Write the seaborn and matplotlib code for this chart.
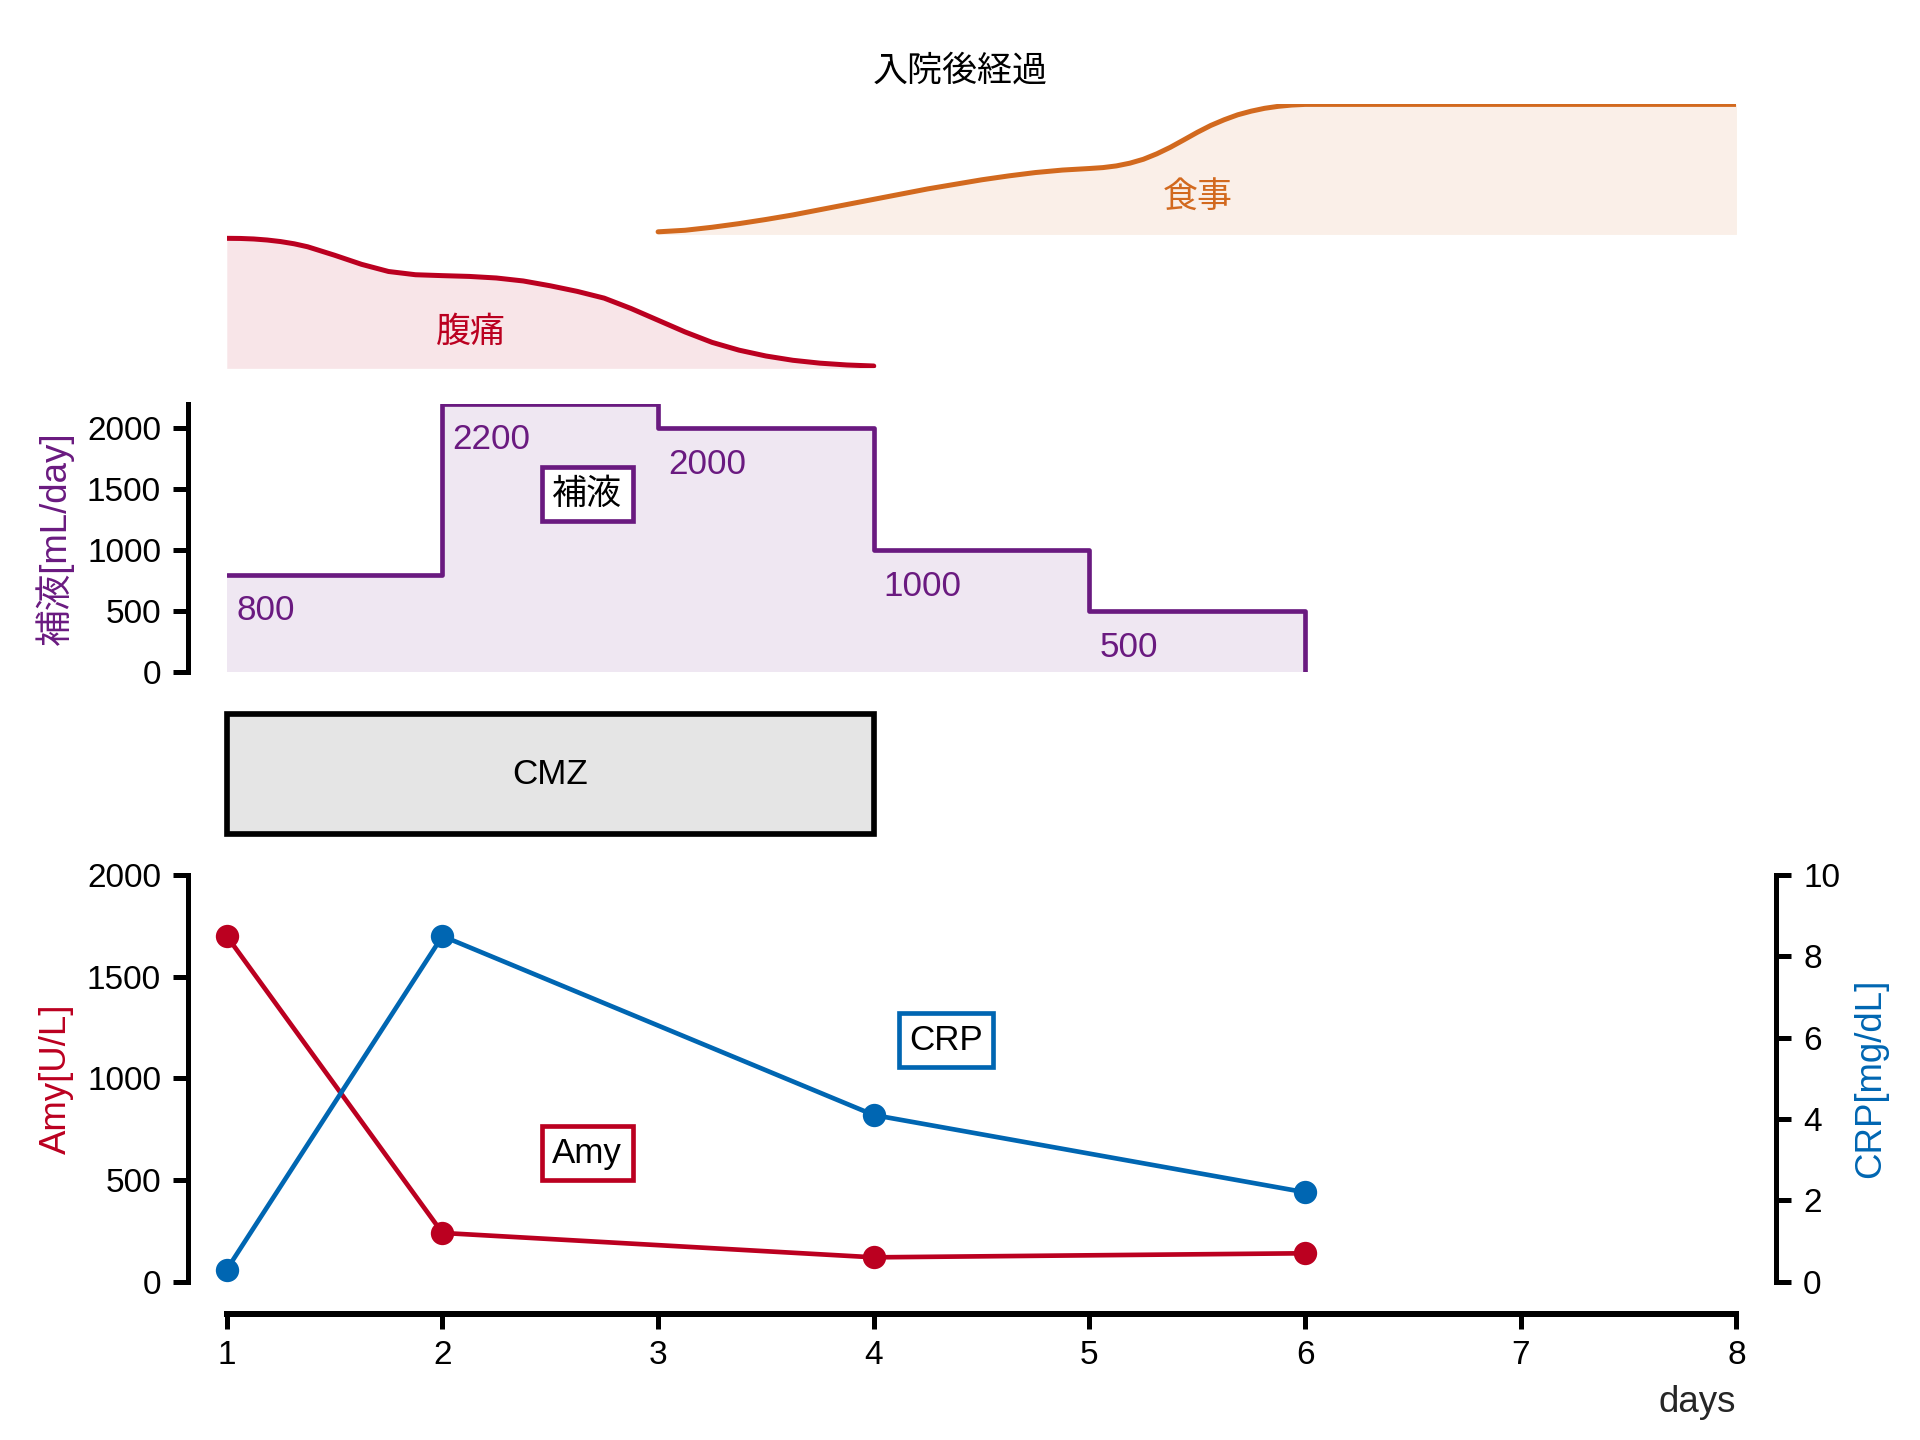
import pandas as pd
import seaborn as sns
import matplotlib.pyplot as plt
from matplotlib.patches import Rectangle

# symptom curves (0..1 scale)
pain_days = [1, 1.0625, 1.125, 1.1875, 1.25, 1.3125, 1.375, 1.5, 1.625, 1.75, 1.875, 2, 2.125, 2.25,
             2.375, 2.5, 2.625, 2.75, 2.875, 3, 3.125, 3.25, 3.375, 3.5, 3.625, 3.75, 3.875, 4]
pain_level = [1.0, 0.999, 0.995, 0.987, 0.975, 0.958, 0.935, 0.87, 0.80, 0.745, 0.72, 0.713, 0.707, 0.695,
              0.672, 0.635, 0.592, 0.54, 0.46, 0.37, 0.28, 0.2, 0.14, 0.095, 0.062, 0.04, 0.026, 0.018]
diet_days = [3, 3.125, 3.25, 3.375, 3.5, 3.625, 3.75, 3.875, 4, 4.125, 4.25, 4.375, 4.5, 4.625, 4.75,
             4.875, 5, 5.0625, 5.125, 5.1875, 5.25, 5.3125, 5.375, 5.4375, 5.5, 5.5625, 5.625, 5.6875,
             5.75, 5.8125, 5.875, 5.9375, 6, 8]
diet_level = [0.02, 0.032, 0.055, 0.083, 0.115, 0.15, 0.19, 0.23, 0.27, 0.31, 0.35, 0.385, 0.42, 0.45, 0.476,
              0.495, 0.507, 0.514, 0.527, 0.548, 0.578, 0.62, 0.67, 0.727, 0.785, 0.838, 0.882, 0.92,
              0.948, 0.97, 0.985, 0.995, 1.0, 1.0]

# fluid infusion [mL/day]
fluid_days = [1, 2, 3, 4, 5, 6]
fluid_ml = [800, 2200, 2000, 1000, 500, 0]

# antibiotic
cmz_start, cmz_end = 1, 4

# labs
lab_days = [1, 2, 4, 6]
amy = [1700, 240, 120, 140]
crp = [0.3, 8.5, 4.1, 2.2]

red = '#bb0020'
orange = '#d2691e'
purple = '#6a1a80'
blue = '#0066b2'

sns.set_theme(style='ticks')
plt.rcParams['font.family'] = ['Liberation Sans', 'Noto Sans CJK JP']
plt.rcParams['axes.linewidth'] = 1.5
plt.rcParams['xtick.major.width'] = 1.5
plt.rcParams['ytick.major.width'] = 1.5
plt.rcParams['xtick.major.size'] = 4.5
plt.rcParams['ytick.major.size'] = 4.5
plt.rcParams['xtick.labelsize'] = 10
plt.rcParams['ytick.labelsize'] = 10
plt.rcParams['axes.edgecolor'] = 'black'
plt.rcParams['xtick.color'] = 'black'
plt.rcParams['ytick.color'] = 'black'
plt.rcParams['text.color'] = 'black'

fig = plt.figure(figsize=(8, 6), dpi=240)
L, W = 0.1181, 0.7863
ax_top = fig.add_axes([L, 0.7442, W, 0.1833])
ax_fl = fig.add_axes([L, 0.5331, W, 0.1864])
ax_cmz = fig.add_axes([L, 0.4208, W, 0.0833])
ax = fig.add_axes([L, 0.1099, W, 0.2824])

fig.text(0.5, 0.9507, '入院後経過', ha='center', va='center', fontsize=10.5)

# pain / diet
diet_base = 1.03
diet_y = [diet_base + v for v in diet_level]
ax_top.fill_between(pain_days, 0, pain_level, color=red, alpha=0.1, lw=0)
sns.lineplot(x=pain_days, y=pain_level, ax=ax_top, color=red, lw=1.5)
ax_top.fill_between(diet_days, diet_base, diet_y, color=orange, alpha=0.1, lw=0)
sns.lineplot(x=diet_days, y=diet_y, ax=ax_top, color=orange, lw=1.5)
ax_top.text(2.13, 0.28, '腹痛', color=red, ha='center', va='center', fontsize=10.5)
ax_top.text(5.5, diet_base + 0.28, '食事', color=orange, ha='center', va='center', fontsize=10.5)
ax_top.set_xlim(1, 8)
ax_top.set_ylim(0, 2.03)
ax_top.axis('off')

# fluid
ax_fl.fill_between(fluid_days, 0, fluid_ml, step='post', color=purple, alpha=0.1, lw=0)
ax_fl.step(fluid_days, fluid_ml, where='post', color=purple, lw=1.4)
for d, v in zip(fluid_days, fluid_ml):
    if v > 0:
        ax_fl.annotate(str(v), (d, v), xytext=(3, -10.8), textcoords='offset points',
                       ha='left', va='center', color=purple, fontsize=10.5)
ax_fl.text(2.672, 1460, '補液', ha='center', va='center', fontsize=10.5,
           bbox=dict(boxstyle='square,pad=0.3', fc='white', ec=purple, lw=1.4))
ax_fl.set_xlim(1, 8)
ax_fl.set_ylim(0, 2200)
ax_fl.set_yticks([0, 500, 1000, 1500, 2000])
ax_fl.set_ylabel('補液[mL/day]', color=purple, fontsize=11)
sns.despine(ax=ax_fl, bottom=True)
ax_fl.spines['left'].set_position(('outward', 11.7))
ax_fl.set_xticks([])

# CMZ
ax_cmz.add_patch(Rectangle((cmz_start, 0), cmz_end - cmz_start, 1, fc='#e5e5e5',
                           ec='black', lw=1.7, clip_on=False))
ax_cmz.text((cmz_start + cmz_end) / 2, 0.5, 'CMZ', ha='center', va='center', fontsize=10.5)
ax_cmz.set_xlim(1, 8)
ax_cmz.set_ylim(0, 1)
ax_cmz.axis('off')

# labs
df = pd.DataFrame({'day': lab_days, 'Amy': amy, 'CRP': crp})
sns.lineplot(data=df, x='day', y='Amy', ax=ax, color=red, lw=1.4, marker='o', markersize=7,
             markeredgewidth=0, clip_on=False, zorder=3)
ax2 = ax.twinx()
sns.lineplot(data=df, x='day', y='CRP', ax=ax2, color=blue, lw=1.4, marker='o', markersize=7,
             markeredgewidth=0, clip_on=False, zorder=3)
ax.text(2.672, 633, 'Amy', ha='center', va='center', fontsize=10.5,
        bbox=dict(boxstyle='square,pad=0.3', fc='white', ec=red, lw=1.4))
ax2.text(4.335, 5.94, 'CRP', ha='center', va='center', fontsize=10.5,
         bbox=dict(boxstyle='square,pad=0.3', fc='white', ec=blue, lw=1.4))

ax.set_xlim(1, 8)
ax.set_ylim(0, 2000)
ax.set_yticks([0, 500, 1000, 1500, 2000])
ax.set_xticks(range(1, 9))
ax2.set_ylim(0, 10)
ax2.set_yticks([0, 2, 4, 6, 8, 10])
ax.set_ylabel('Amy[U/L]', color=red, fontsize=11)
ax2.set_ylabel('CRP[mg/dL]', color=blue, fontsize=11)
ax.set_xlabel('days', loc='right', fontsize=11)

for s in ['top', 'right']:
    ax.spines[s].set_visible(False)
for s in ['top', 'left', 'bottom']:
    ax2.spines[s].set_visible(False)
ax.spines['left'].set_position(('outward', 11.7))
ax.spines['bottom'].set_position(('outward', 9.6))
ax.spines['bottom'].set_linewidth(1.8)
ax2.spines['right'].set_position(('outward', 12))

fig.savefig('out.png', dpi=240)
